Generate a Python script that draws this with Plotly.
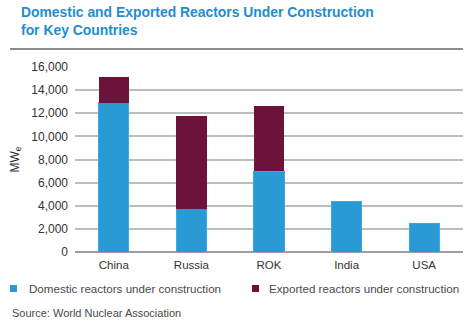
import plotly.graph_objects as go

countries = ["China", "Russia", "ROK", "India", "USA"]
domestic = [12900, 3750, 7000, 4350, 2500]
exported = [2200, 8000, 5650, 0, 0]
y_ticks = [0, 2000, 4000, 6000, 8000, 10000, 12000, 14000, 16000]
series_names = ["Domestic reactors under construction", "Exported reactors under construction"]

BLUE = "#2A9AD5"
MAROON = "#6D1238"

W, H = 470, 331
L, R, T, B = 75, 7, 67, 79
pw = W - L - R
ph = H - T - B

def px_x(x):
    return (x - L) / pw

def px_y(y):
    return (H - B - y) / ph

fig = go.Figure()
fig.add_trace(go.Bar(
    x=countries, y=domestic, name=series_names[0],
    marker=dict(color=BLUE, line=dict(color="#3AAAE6", width=1)),
    showlegend=False,
))
fig.add_trace(go.Bar(
    x=countries, y=exported, name=series_names[1],
    marker=dict(color=MAROON, line=dict(width=0)),
    showlegend=False,
))

shapes = [dict(
    type="line", xref="paper", yref="paper",
    x0=px_x(10), x1=px_x(463), y0=px_y(49), y1=px_y(49),
    line=dict(color="#8C8C8C", width=2),
)]
annotations = [
    dict(
        text="<b>Domestic and Exported Reactors Under Construction<br>for Key Countries</b>",
        xref="paper", yref="paper", x=px_x(19), y=px_y(2),
        xanchor="left", yanchor="top", align="left", showarrow=False,
        font=dict(family="Liberation Sans, Arial, sans-serif", size=13.9, color="#1E8DD2"),
    ),
    dict(
        text="Source: World Nuclear Association", xref="paper", yref="paper",
        x=px_x(10), y=px_y(313), xanchor="left", yanchor="middle", showarrow=False,
        font=dict(size=11, color="#4a4a4a"),
    ),
]
# manual legend
legend_pos = [(10, 27), (252, 267)]
for (sx, tx), name, col in zip(legend_pos, series_names, [BLUE, MAROON]):
    shapes.append(dict(
        type="rect", xref="paper", yref="paper",
        x0=px_x(sx), x1=px_x(sx + 7), y0=px_y(285), y1=px_y(292),
        fillcolor=col, line=dict(width=0),
    ))
    annotations.append(dict(
        text=name, xref="paper", yref="paper", x=px_x(tx), y=px_y(288.5),
        xanchor="left", yanchor="middle", showarrow=False,
        font=dict(size=11.6, color="#4a4a4a"),
    ))

fig.update_layout(
    width=W, height=H,
    margin=dict(l=L, r=R, t=T, b=B, pad=0),
    barmode="stack",
    bargap=0.61,
    plot_bgcolor="white",
    paper_bgcolor="white",
    font=dict(family="Liberation Sans, Arial, sans-serif", color="#333333", size=12),
    showlegend=False,
    xaxis=dict(
        showgrid=False, showline=False, ticks="",
        tickfont=dict(size=11.5, color="#333333"),
        ticklabelstandoff=4,
    ),
    yaxis=dict(
        range=[0, 16000], tickvals=y_ticks, tickformat=",d",
        showgrid=True, gridcolor="#BDBDBD", gridwidth=1.5,
        zeroline=True, zerolinecolor="#9E9E9E", zerolinewidth=1.5,
        showline=False, ticks="",
        tickfont=dict(size=12, color="#333333"),
        ticklabelstandoff=6,
        title=dict(text="MW<sub>e</sub>", font=dict(size=12, color="#333333"), standoff=9),
    ),
    shapes=shapes,
    annotations=annotations,
)

fig.write_html("out.html")
